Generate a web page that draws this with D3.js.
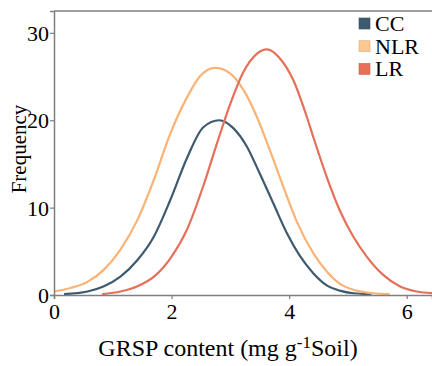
<!DOCTYPE html>
<html>
<head>
<meta charset="utf-8">
<script src="https://cdn.jsdelivr.net/npm/d3@7"></script>
<style>
  body { margin: 0; background: #fff; }
  svg text { font-family: "Liberation Serif", "Times New Roman", serif; fill: #000; }
</style>
</head>
<body>
<svg id="chart" width="432" height="366"></svg>
<script>
// groups, in legend order
var groups = ["CC", "NLR", "LR"];
var colors = ["#3e5a6e", "#fbb275", "#e5705a"];
var legendFill = ["#3e5a6e", "#fdc792", "#e8705a"];

// curve points: [GRSP content, frequency]
var ccPts = [[0.17, 0.1], [0.57, 0.4], [0.85, 1.0], [1.13, 2.1], [1.42, 4.0], [1.70, 6.7],
  [1.98, 10.9], [2.27, 15.8], [2.54, 19.2], [2.81, 20.0], [3.05, 19.1], [3.28, 17.0],
  [3.50, 13.9], [3.73, 10.5], [3.96, 7.1], [4.18, 4.5], [4.41, 2.5], [4.64, 1.1],
  [4.86, 0.5], [5.09, 0.2], [5.40, 0.1]];
var nlrPts = [[0, 0.4], [0.28, 0.8], [0.57, 1.5], [0.85, 2.9], [1.13, 5.2], [1.42, 8.6],
  [1.70, 13.2], [1.98, 18.5], [2.27, 22.7], [2.48, 25.0], [2.74, 26.0], [2.99, 25.4],
  [3.22, 23.5], [3.45, 20.4], [3.67, 16.6], [3.90, 12.4], [4.13, 8.4], [4.41, 4.8],
  [4.64, 2.7], [4.86, 1.3], [5.15, 0.5], [5.43, 0.2], [5.71, 0.1]];
var lrPts = [[0.82, 0.1], [1.13, 0.4], [1.42, 1.0], [1.70, 2.1], [1.98, 4.2], [2.27, 7.6],
  [2.54, 12.5], [2.77, 17.3], [3.00, 21.9], [3.22, 25.5], [3.45, 27.6], [3.62, 28.1],
  [3.84, 27.1], [4.07, 24.6], [4.30, 20.4], [4.41, 18.1], [4.64, 13.5], [4.86, 9.7],
  [5.09, 6.7], [5.32, 4.4], [5.60, 2.3], [5.88, 1.0], [6.17, 0.4], [6.45, 0.2]];
var series = [ccPts, nlrPts, lrPts];

var xTicks = [0, 2, 4, 6];
var yTicks = [0, 10, 20, 30];

var svg = d3.select("#chart");
var margin = {top: 11, right: 0, bottom: 71, left: 54};
var width = 432 - margin.left - margin.right,
    height = 366 - margin.top - margin.bottom;

var x = d3.scaleLinear().domain([0, 6.43]).range([0, width]);
var y = d3.scaleLinear().domain([0, 32.5]).range([height, 0]);

var g = svg.append("g")
    .attr("transform", "translate(" + margin.left + "," + margin.top + ")");

// top border
g.append("line")
    .attr("x1", 0).attr("x2", width + 2)
    .attr("y1", 0).attr("y2", 0)
    .attr("stroke", "#7f7f7f").attr("stroke-width", 1.5);

var line = d3.line()
    .x(function(d) { return x(d[0]); })
    .y(function(d) { return y(d[1]); })
    .curve(d3.curveMonotoneX);

g.append("defs").append("clipPath").attr("id", "clip")
    .append("rect").attr("x", 0).attr("y", 0).attr("width", width).attr("height", height);

g.append("g").attr("clip-path", "url(#clip)")
    .selectAll("path")
    .data(series)
    .enter().append("path")
    .attr("d", line)
    .attr("fill", "none")
    .attr("stroke", function(d, i) { return colors[i]; })
    .attr("stroke-width", 2.2);

// axes
var xAxis = g.append("g")
    .attr("transform", "translate(0," + height + ")")
    .call(d3.axisBottom(x).tickValues(xTicks).tickFormat(d3.format("d")).tickSize(4).tickPadding(4));
var yAxis = g.append("g")
    .call(d3.axisLeft(y).tickValues(yTicks).tickFormat(d3.format("d")).tickSize(4).tickPadding(1));

[xAxis, yAxis].forEach(function(a) {
    a.attr("font-family", "'Liberation Serif', 'Times New Roman', serif").attr("font-size", 22);
    a.select(".domain").attr("stroke", "#7f7f7f").attr("stroke-width", 1.5);
    a.selectAll(".tick line").attr("stroke", "#7f7f7f").attr("stroke-width", 1.2);
    a.selectAll(".tick text").attr("fill", "#000");
});
yAxis.selectAll(".tick text").attr("dy", "0.35em");

// axis titles
var xt = svg.append("text")
    .attr("x", 228).attr("y", 356)
    .attr("text-anchor", "middle")
    .style("font-size", "24px");
xt.append("tspan").text("GRSP content (mg g");
xt.append("tspan").attr("dy", -8).style("font-size", "17px").text("-1");
xt.append("tspan").attr("dy", 8).text("Soil)");

svg.append("text")
    .attr("transform", "translate(26,149) rotate(-90)")
    .attr("text-anchor", "middle")
    .style("font-size", "21px")
    .text("Frequency");

// legend
var leg = svg.append("g").attr("transform", "translate(359,18)");
var items = leg.selectAll("g").data(groups).enter().append("g")
    .attr("transform", function(d, i) { return "translate(0," + (i * 22.7) + ")"; });
items.append("rect")
    .attr("width", 11).attr("height", 11)
    .attr("fill", function(d, i) { return legendFill[i]; })
    .attr("stroke", function(d, i) { return d3.color(legendFill[i]).darker(0.4); })
    .attr("stroke-width", 0.6);
items.append("text")
    .attr("x", 16).attr("y", 13)
    .style("font-size", "22px")
    .text(function(d) { return d; });
</script>
</body>
</html>
